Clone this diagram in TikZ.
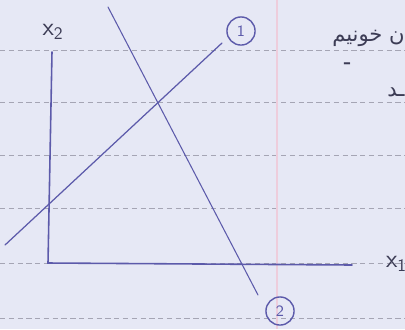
\documentclass[tikz,border=0pt]{standalone}
\usepackage{fontspec}
\setmainfont{Liberation Sans}
\newfontfamily\arabicfont[Script=Arabic]{DejaVu Sans}
\TeXXeTstate=1
\definecolor{paper}{RGB}{230,232,245}
\definecolor{ink}{RGB}{92,90,170}
\definecolor{rule}{RGB}{165,165,180}
\definecolor{margin}{RGB}{238,205,220}
\definecolor{darkink}{RGB}{60,60,85}
\tikzset{
  pen/.style={draw=ink, line width=0.9pt, line cap=round},
  ruled/.style={draw=rule, densely dashed, line width=0.3pt},
  lbl/.style={text=darkink, font=\sffamily\Large, inner sep=1pt},
  circ/.style={circle, draw=ink, line width=0.8pt, text=ink, font=\sffamily\small, inner sep=1.5pt, minimum size=16pt}
}
\begin{document}
\begin{tikzpicture}[x=0.02cm, y=-0.02cm]
\fill[paper] (0,0) rectangle (405,329);
\useasboundingbox (0,0) rectangle (405,329);
% ruled lines
\foreach \yy in {50,102,155,208,263,318} \draw[ruled] (0,\yy) -- (405,\yy);
\draw[margin, line width=0.6pt] (277,0) -- (277,329);
% axes
\coordinate (ytop) at (52,52);
\coordinate (origin) at (48,263);
\coordinate (xend) at (352,265);
\draw[pen] (ytop) -- (origin) -- (xend);
% line 1
\coordinate (l1a) at (5,245);
\coordinate (l1b) at (222,43);
\draw[pen, line width=0.7pt] (l1a) -- (l1b);
% line 2
\coordinate (l2a) at (108,7);
\coordinate (l2b) at (258,295);
\draw[pen, line width=0.6pt] (l2a) -- (l2b);
% labels
\node[lbl] (x2) at (53,32) {x\textsubscript{2}};
\node[lbl, anchor=west] (x1) at (384,264) {x\textsubscript{1}};
\node[circ] (c1) at (241,31) {1};
\node[circ] (c2) at (280,311) {2};
% persian text
\node[text=darkink, anchor=east, inner sep=0pt, font=\large] (fa1) at (405,38) {\arabicfont\beginR ن خونیم\endR};
\node[text=darkink, inner sep=0pt, font=\Large] (fa2) at (347,67) {-};
\node[text=darkink, anchor=east, inner sep=0pt, font=\large] (fa3) at (405,92) {\arabicfont\beginR ـد\endR};
\end{tikzpicture}
\end{document}
